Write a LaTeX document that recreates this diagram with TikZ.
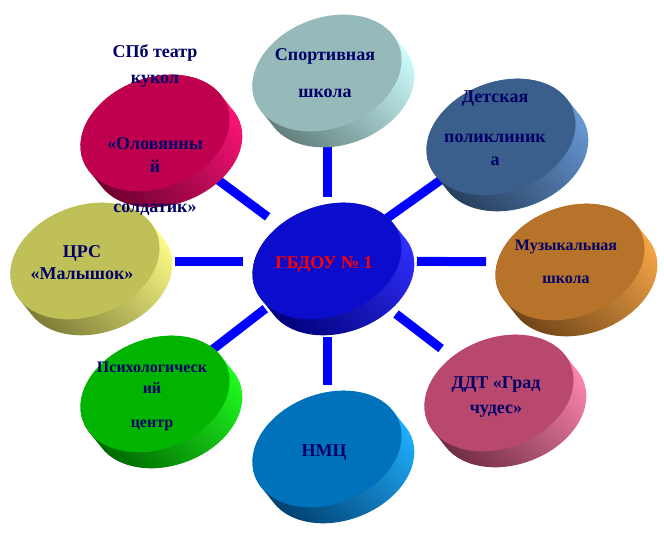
\documentclass[tikz,border=0pt]{standalone}
\usepackage{fontspec}
\setmainfont{Liberation Serif}
\usepackage{tikz}
\usetikzlibrary{calc}
\definecolor{spokecolor}{HTML}{0000FF}
\definecolor{textcolor}{HTML}{000066}
\definecolor{hubface}{HTML}{0C0CCC}   \definecolor{hublight}{HTML}{3030FF}   \definecolor{hubdark}{HTML}{00007A}
\definecolor{sportface}{HTML}{95BAB9} \definecolor{sportlight}{HTML}{D0FFFF} \definecolor{sportdark}{HTML}{607E7C}
\definecolor{poliface}{HTML}{3A5F8C}  \definecolor{polilight}{HTML}{6A9AD8}  \definecolor{polidark}{HTML}{263E5C}
\definecolor{musicface}{HTML}{B8732B} \definecolor{musiclight}{HTML}{F8A848} \definecolor{musicdark}{HTML}{704418}
\definecolor{ddtface}{HTML}{B8486E}   \definecolor{ddtlight}{HTML}{FF88B0}   \definecolor{ddtdark}{HTML}{702C44}
\definecolor{nmcface}{HTML}{0072BC}   \definecolor{nmclight}{HTML}{20B0FF}   \definecolor{nmcdark}{HTML}{004070}
\definecolor{psyface}{HTML}{00B400}   \definecolor{psylight}{HTML}{20FF20}   \definecolor{psydark}{HTML}{006800}
\definecolor{crsface}{HTML}{C0C058}   \definecolor{crslight}{HTML}{FFFF88}   \definecolor{crsdark}{HTML}{7C7C36}
\definecolor{spbface}{HTML}{BF004E}   \definecolor{spblight}{HTML}{FF1478}   \definecolor{spbdark}{HTML}{700030}
% disc: name, face, light, dark
\newcommand{\disc}[4]{%
  \shade[top color=#3, bottom color=#4, shading angle=-45]
    \foreach \d in {0,2,...,16} {($(#1)+(0.8*\d,\d)$) circle [x radius=77, y radius=55, rotate=21]};
  \fill[#2] (#1) circle [x radius=77, y radius=55, rotate=21];
}
\tikzset{
  spoke/.style={spokecolor, line width=9pt},
  caption/.style={text=textcolor, anchor=base, inner sep=0pt, font=\bfseries\fontsize{18}{20}\selectfont},
  smallcaption/.style={caption, font=\bfseries\fontsize{16}{18}\selectfont}
}

\begin{document}
\begin{tikzpicture}[x=1pt,y=-1pt]
  \useasboundingbox (0,0) rectangle (664,536);
  \coordinate (hub) at (327,261);
  \coordinate (sport) at (327,73);
  \coordinate (poli) at (501,137);
  \coordinate (music) at (570,262);
  \coordinate (ddt) at (499,393);
  \coordinate (nmc) at (327,449);
  \coordinate (psy) at (155,394);
  \coordinate (crs) at (85,261);
  \coordinate (spb) at (155,133);
%% spokes first, discs on top
\foreach \a/\s/\e in {sport/64/74, poli/73/70, music/90/84, ddt/87/73,
                      nmc/76/64, psy/78/71, crs/84/90, spb/74/79}
  \draw[spoke, shorten <=\s pt, shorten >=\e pt] (hub) -- (\a);
\disc{hub}{hubface}{hublight}{hubdark}
\disc{sport}{sportface}{sportlight}{sportdark}
\disc{poli}{poliface}{polilight}{polidark}
\disc{music}{musicface}{musiclight}{musicdark}
\disc{ddt}{ddtface}{ddtlight}{ddtdark}
\disc{nmc}{nmcface}{nmclight}{nmcdark}
\disc{psy}{psyface}{psylight}{psydark}
\disc{crs}{crsface}{crslight}{crsdark}
\disc{spb}{spbface}{spblight}{spbdark}
%% labels
\node[caption, text=red] (hub-1) at (324,268) {ГБДОУ № 1};
\foreach \t/\y [count=\i] in {Спортивная/60, школа/97}
  \node[caption] (sport-\i) at (325,\y) {\t};
\foreach \t/\y [count=\i] in {Детская/102, поликлиник/142, а/165}
  \node[caption] (poli-\i) at (495,\y) {\t};
\foreach \t/\y [count=\i] in {Музыкальная/250, школа/283}
  \node[smallcaption] (music-\i) at (566,\y) {\t};
\foreach \t/\y [count=\i] in {ДДТ «Град/388, чудес»/413}
  \node[caption] (ddt-\i) at (496,\y) {\t};
\node[caption] (nmc-1) at (324,456) {НМЦ};
\foreach \t/\y [count=\i] in {Психологическ/372, ий/393, центр/427}
  \node[smallcaption] (psy-\i) at (152,\y) {\t};
\foreach \t/\y [count=\i] in {ЦРС/257, «Малышок»/279}
  \node[caption] (crs-\i) at (82,\y) {\t};
\foreach \t/\y [count=\i] in {СПб театр/57, кукол/83, «Оловянны/149, й/172, солдатик»/212}
  \node[caption] (spb-\i) at (155,\y) {\t};
\end{tikzpicture}
\end{document}
